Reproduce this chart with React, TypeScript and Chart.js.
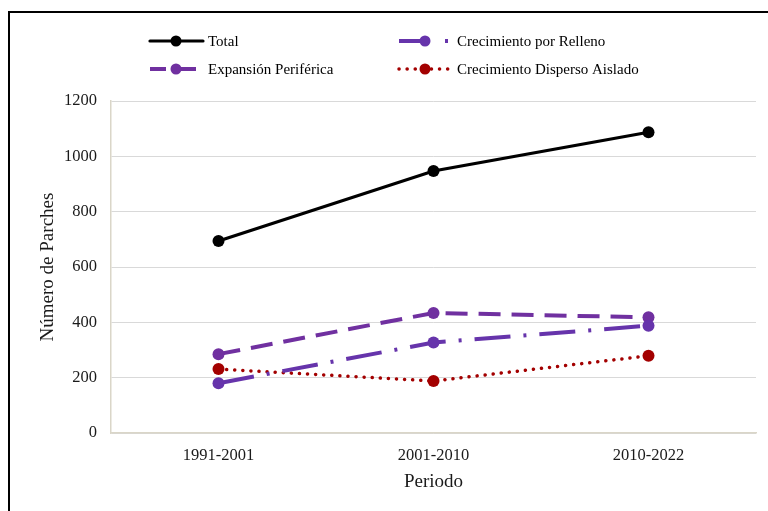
import React, { useEffect, useRef } from "react";
import { Chart, registerables } from "chart.js";

Chart.register(...registerables);

const periods = ["1991-2001", "2001-2010", "2010-2022"];
const total = [694, 947, 1087];
const relleno = [180, 327, 388];
const expansion = [285, 434, 418];
const disperso = [231, 188, 279];
const yTicks = [0, 200, 400, 600, 800, 1000, 1200];

const FONT = "'Liberation Serif', 'Times New Roman', serif";

const legendOrder = [
  { idx: 0, x: 150, y: 41 },
  { idx: 1, x: 399, y: 41 },
  { idx: 2, x: 150, y: 69 },
  { idx: 3, x: 399, y: 69 },
];

const legendPlugin = {
  id: "customLegend",
  afterDraw(chart: any) {
    const ctx = chart.ctx;
    ctx.save();
    legendOrder.forEach(({ idx, x, y }) => {
      const ds = chart.data.datasets[idx];
      const len = 53;
      ctx.save();
      ctx.strokeStyle = ds.borderColor;
      ctx.lineWidth = ds.borderWidth;
      ctx.lineCap = ds.borderCapStyle || "butt";
      ctx.setLineDash(ds.legendDash || ds.borderDash || []);
      ctx.beginPath();
      ctx.moveTo(x, y);
      ctx.lineTo(x + len, y);
      ctx.stroke();
      ctx.setLineDash([]);
      ctx.fillStyle = ds.pointBackgroundColor;
      ctx.beginPath();
      ctx.arc(x + 26, y, 5.5, 0, Math.PI * 2);
      ctx.fill();
      ctx.restore();
      ctx.fillStyle = "#000";
      ctx.font = `15px ${FONT}`;
      ctx.textBaseline = "middle";
      ctx.textAlign = "left";
      ctx.fillText(ds.label, x + 58, y + 1);
    });
    ctx.restore();
  },
};

export default function App() {
  const ref = useRef<HTMLCanvasElement | null>(null);

  useEffect(() => {
    if (!ref.current) return;
    const common = {
      pointRadius: 6,
      pointHoverRadius: 6,
      pointBorderWidth: 0,
    };
    const chart = new Chart(ref.current, {
      type: "line",
      data: {
        labels: periods,
        datasets: [
          {
            label: "Total",
            data: total,
            borderColor: "#000000",
            backgroundColor: "#000000",
            pointBackgroundColor: "#000000",
            pointBorderColor: "#000000",
            borderWidth: 3.2,
            borderCapStyle: "round",
            ...common,
          } as any,
          {
            label: "Crecimiento por Relleno",
            data: relleno,
            borderColor: "#6634AB",
            backgroundColor: "#6634AB",
            pointBackgroundColor: "#6634AB",
            pointBorderColor: "#6634AB",
            borderWidth: 4,
            borderDash: [36, 13, 3, 13],
            legendDash: [30, 16, 3, 20],
            ...common,
          } as any,
          {
            label: "Expansión Periférica",
            data: expansion,
            borderColor: "#7030A0",
            backgroundColor: "#7030A0",
            pointBackgroundColor: "#7030A0",
            pointBorderColor: "#7030A0",
            borderWidth: 4,
            borderDash: [22, 11],
            legendDash: [16, 10, 20, 10],
            ...common,
          } as any,
          {
            label: "Crecimiento Disperso Aislado",
            data: disperso,
            borderColor: "#A30000",
            backgroundColor: "#A30000",
            pointBackgroundColor: "#A30000",
            pointBorderColor: "#A30000",
            borderWidth: 3.5,
            borderCapStyle: "round",
            borderDash: [0.1, 8],
            ...common,
          } as any,
        ],
      },
      options: {
        responsive: false,
        animation: false,
        layout: { padding: { top: 101, right: 12, left: 0, bottom: 0 } },
        plugins: {
          legend: { display: false },
          tooltip: { enabled: false },
        },
        scales: {
          x: {
            offset: true,
            grid: { display: false, drawTicks: false },
            border: { display: true, color: "#DAD6C8", width: 1.5 },
            ticks: {
              color: "#1a1a1a",
              font: { family: FONT, size: 16.5 },
              padding: 13,
              maxRotation: 0,
            },
            title: {
              display: true,
              text: "Periodo",
              color: "#1a1a1a",
              font: { family: FONT, size: 19 },
              padding: { top: 0, bottom: 18 },
            },
            afterFit(scale: any) {
              scale.height = 78;
            },
          },
          y: {
            min: 0,
            max: 1200,
            afterBuildTicks(scale: any) {
              scale.ticks = yTicks.map((v) => ({ value: v }));
            },
            grid: { color: "#D9D9D9", lineWidth: 1, drawTicks: false },
            border: { display: true, color: "#DAD6C8", width: 1.5 },
            ticks: {
              color: "#1a1a1a",
              font: { family: FONT, size: 16.5 },
              padding: 14,
              callback: (v: any) => String(v),
            },
            title: {
              display: true,
              text: "Número de Parches",
              color: "#1a1a1a",
              font: { family: FONT, size: 19 },
              padding: { top: 37, bottom: 0 },
            },
            afterFit(scale: any) {
              scale.width = 111;
            },
          },
        },
      },
      plugins: [legendPlugin],
    });
    return () => chart.destroy();
  }, []);

  return (
    <div
      style={{
        position: "fixed",
        left: 0,
        top: 0,
        width: 768,
        height: 511,
        overflow: "hidden",
        background: "#fff",
      }}
    >
      <div
        style={{
          position: "absolute",
          left: 8,
          top: 11,
          width: 900,
          height: 700,
          borderLeft: "2px solid #000",
          borderTop: "2px solid #000",
        }}
      />
      <canvas
        ref={ref}
        width={768}
        height={511}
        style={{ position: "absolute", left: 0, top: 0, width: 768, height: 511 }}
      />
    </div>
  );
}
